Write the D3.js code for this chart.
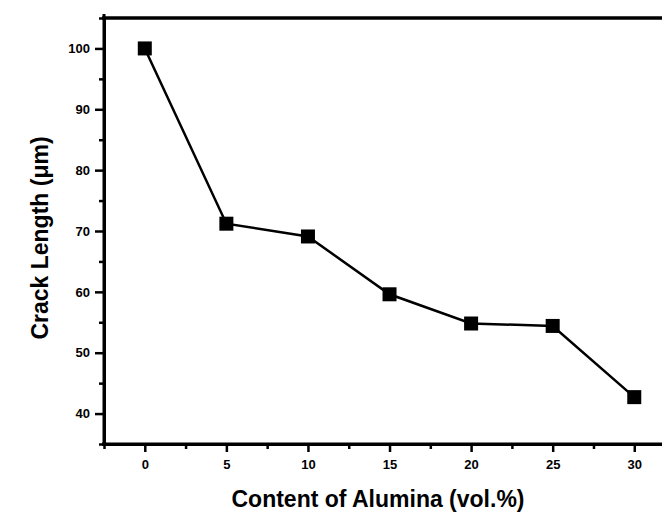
<!DOCTYPE html>
<html>
<head>
<meta charset="utf-8">
<script src="https://cdn.jsdelivr.net/npm/d3@7"></script>
<style>
  body { margin: 0; background: #fff; }
  svg { display: block; }
</style>
</head>
<body>
<svg id="chart"></svg>
<script>
const alumina = [0, 5, 10, 15, 20, 25, 30];
const crackLength = [100, 71.2, 69.1, 59.6, 54.8, 54.4, 42.7];
const xTicks = [0, 5, 10, 15, 20, 25, 30];
const yTicks = [40, 50, 60, 70, 80, 90, 100];

const width = 662;
const height = 519;
const svg = d3.select("#chart").attr("width", width).attr("height", height);

const x = d3.scaleLinear().domain([-2.5, 31.7]).range([104, 662]);
const y = d3.scaleLinear().domain([35, 105]).range([444, 18]);

// frame (top line runs off the right edge in the source)
svg.append("line")
  .attr("x1", 102).attr("x2", 670)
  .attr("y1", 18).attr("y2", 18)
  .attr("stroke", "#000").attr("stroke-width", 3.5);

const xAxis = svg.append("g")
  .attr("transform", `translate(0, ${y.range()[0]})`)
  .call(d3.axisBottom(x).tickValues(xTicks).tickSize(8).tickSizeOuter(0).tickPadding(8).tickFormat(d3.format("d")));
xAxis.append("g")
  .call(d3.axisBottom(x).tickValues(d3.range(-2.5, 31, 5)).tickSize(5).tickSizeOuter(0).tickFormat(""));

const yAxis = svg.append("g")
  .attr("transform", `translate(${x.range()[0]}, 0)`)
  .call(d3.axisLeft(y).tickValues(yTicks).tickSize(9).tickSizeOuter(0).tickPadding(5).tickFormat(d3.format("d")));
yAxis.append("g")
  .call(d3.axisLeft(y).tickValues(d3.range(35, 105.1, 10)).tickSize(5).tickSizeOuter(0).tickFormat(""));

svg.selectAll(".domain").attr("stroke-width", 3);
xAxis.select(".domain").attr("d", `M102,0H670`);
yAxis.select(".domain").attr("d", `M0,14V446`);
svg.selectAll(".tick line").attr("stroke-width", 2.5);
svg.selectAll(".tick text")
  .attr("font-family", "Liberation Sans, Arial, sans-serif")
  .attr("font-weight", "bold")
  .attr("font-size", 13)
  .attr("fill", "#000");

const line = d3.line()
  .x((d, i) => x(alumina[i]))
  .y((d) => y(d));

svg.append("path")
  .datum(crackLength)
  .attr("fill", "none")
  .attr("stroke", "#000")
  .attr("stroke-width", 2.5)
  .attr("d", line);

const s = 14;
svg.selectAll(".pt")
  .data(crackLength)
  .join("rect")
  .attr("class", "pt")
  .attr("x", (d, i) => x(alumina[i]) - s / 2)
  .attr("y", (d) => y(d) - s / 2)
  .attr("width", s)
  .attr("height", s)
  .attr("fill", "#000");

svg.append("text")
  .attr("x", 378)
  .attr("y", 507)
  .attr("text-anchor", "middle")
  .attr("font-family", "Liberation Sans, Arial, sans-serif")
  .attr("font-weight", "bold")
  .attr("font-size", 23)
  .text("Content of Alumina (vol.%)");

svg.append("text")
  .attr("transform", "translate(48, 238) rotate(-90)")
  .attr("text-anchor", "middle")
  .attr("font-family", "Liberation Sans, Arial, sans-serif")
  .attr("font-weight", "bold")
  .attr("font-size", 23)
  .text("Crack Length (μm)");
</script>
</body>
</html>
